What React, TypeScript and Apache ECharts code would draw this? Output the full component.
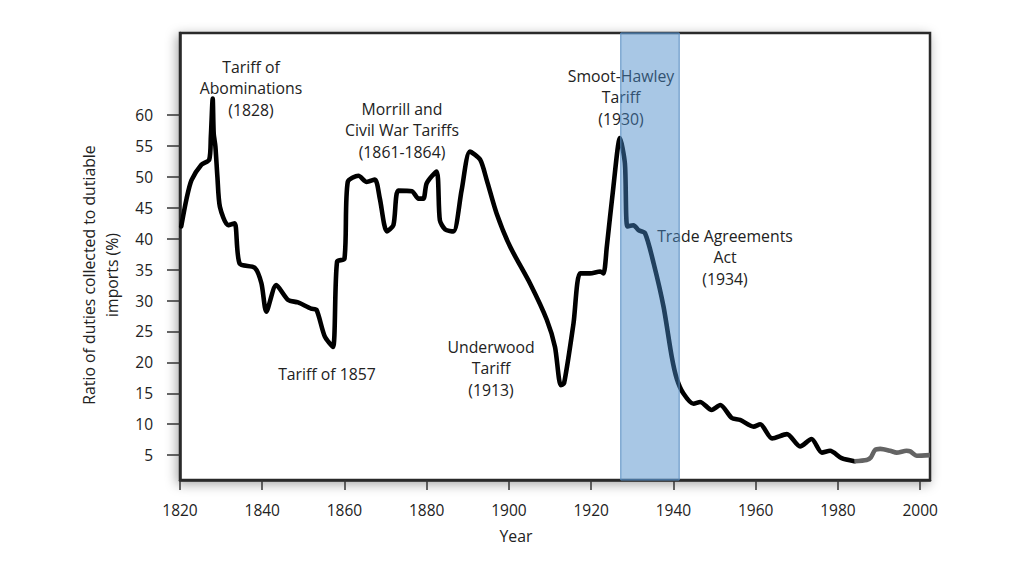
import React, { useEffect, useRef } from "react";
import * as echarts from "echarts";

// Ratio of duties collected to dutiable imports (%)
const mainYears = [
  1820.3, 1821.6, 1822.8, 1825.2, 1827.1, 1827.5, 1827.95, 1828.2, 1828.6, 1829.1, 1829.7,
  1831.7, 1833.3, 1834.5, 1838.2, 1839.8, 1841.0, 1843.4, 1846.3, 1848.7, 1851.9,
  1853.2, 1855.2, 1857.2, 1858.2, 1860.0, 1860.8, 1863.4, 1865.4, 1867.4, 1868.6,
  1870.3, 1871.9, 1873.1, 1876.4, 1878.0, 1879.2, 1880.0, 1882.4, 1883.2, 1884.5,
  1886.5, 1888.5, 1890.5, 1893.0, 1894.6, 1897.0, 1900.3, 1905.1, 1909.2, 1911.2,
  1912.6, 1913.4, 1915.7, 1917.3, 1919.7, 1922.2, 1923.0, 1923.8, 1925.4, 1927.0,
  1928.2, 1928.8, 1930.3, 1931.5, 1933.1, 1935.2, 1937.6, 1939.6, 1940.8, 1942.4,
  1944.9, 1946.5, 1949.3, 1951.4, 1954.2, 1956.2, 1959.5, 1961.1, 1964.0, 1967.6,
  1970.8, 1973.6, 1976.1, 1978.1, 1980.9, 1984.0,
];
const mainValues = [
  42.0, 46.5, 49.5, 52.0, 52.8, 56.5, 62.7, 57.0, 55.0, 50.0, 45.2,
  42.2, 42.5, 36.0, 35.3, 32.8, 28.2, 32.5, 30.1, 29.7, 28.7,
  28.5, 24.2, 22.5, 36.3, 36.8, 49.2, 50.2, 49.2, 49.6, 46.5,
  41.2, 42.2, 47.8, 47.7, 46.5, 46.5, 49.0, 50.9, 43.0, 41.5,
  41.2, 47.9, 54.1, 52.8, 49.5, 44.1, 38.7, 32.8, 26.9, 22.5,
  16.3, 16.6, 26.3, 34.4, 34.4, 34.7, 34.4, 38.7, 48.4, 56.3,
  52.2, 42.0, 42.2, 41.4, 40.9, 36.0, 29.0, 20.9, 17.4, 15.0,
  13.3, 13.6, 12.3, 13.1, 11.0, 10.7, 9.6, 10.0, 7.7, 8.4,
  6.4, 7.6, 5.4, 5.7, 4.5, 4.0,
];
const recentYears = [1984.0, 1987.0, 1988.0, 1989.0, 1990.3, 1992.7, 1994.3, 1996.7, 1997.6, 1999.2, 2002.4];
const recentValues = [4.0, 4.2, 4.6, 5.8, 6.0, 5.7, 5.4, 5.7, 5.6, 4.9, 5.0];

// Shaded period (Smoot-Hawley to the Trade Agreements era)
const bandStart = 1927.2;
const bandEnd = 1941.4;

const xTicks = [1820, 1840, 1860, 1880, 1900, 1920, 1940, 1960, 1980, 2000];
const yTicks = [5, 10, 15, 20, 25, 30, 35, 40, 45, 50, 55, 60];

const X_MIN = 1820;
const X_MAX = 2002.4;
const Y_MIN = 0.97;
const Y_MAX = 73.3;

const FONT = "Open Sans";

export default function App() {
  const ref = useRef<HTMLDivElement>(null);

  useEffect(() => {
    if (!ref.current) return;
    const chart = echarts.init(ref.current, null, { renderer: "svg" });

    const pair = (xs: number[], ys: number[]) => xs.map((x, i) => [x, ys[i]]);
    const ann = (x: number, y: number, text: string) => ({
      type: "text",
      x,
      y,
      z: 1,
      style: {
        text,
        fill: "#222",
        font: `15.8px '${FONT}'`,
        align: "center",
        verticalAlign: "middle",
        lineHeight: 21.5,
      },
    });

    chart.setOption({
      animation: false,
      backgroundColor: "#ffffff",
      grid: {
        left: 180,
        right: 94,
        top: 33,
        bottom: 96,
        show: true,
        backgroundColor: "#ffffff",
        borderColor: "#2a2a2a",
        borderWidth: 2.5,
        shadowBlur: 12,
        shadowColor: "rgba(0,0,0,0.35)",
        shadowOffsetX: -2,
        shadowOffsetY: 3,
      },
      xAxis: {
        type: "value",
        min: X_MIN,
        max: X_MAX,
        interval: 20,
        splitLine: { show: false },
        axisLine: { show: true, lineStyle: { color: "#2a2a2a", width: 2.5 } },
        axisTick: { show: true, length: 10, customValues: xTicks, lineStyle: { color: "#333", width: 1.5 } },
        axisLabel: {
          customValues: xTicks,
          margin: 22,
          color: "#222",
          fontFamily: FONT,
          fontSize: 15.5,
          formatter: (v: number) => String(Math.round(v)),
        },
      },
      yAxis: {
        type: "value",
        min: Y_MIN,
        max: Y_MAX,
        splitLine: { show: false },
        axisLine: { show: true, lineStyle: { color: "#2a2a2a", width: 2.5 } },
        axisTick: { show: true, length: 13, customValues: yTicks, lineStyle: { color: "#333", width: 1.5 } },
        axisLabel: {
          customValues: yTicks,
          margin: 27,
          color: "#222",
          fontFamily: FONT,
          fontSize: 15.5,
          formatter: (v: number) => String(Math.round(v)),
        },
      },
      graphic: [
        ann(251, 88, "Tariff of\nAbominations\n(1828)"),
        ann(402, 130, "Morrill and\nCivil War Tariffs\n(1861-1864)"),
        ann(327, 374, "Tariff of 1857"),
        ann(491, 368, "Underwood\nTariff\n(1913)"),
        ann(621, 97, "Smoot-Hawley\nTariff\n(1930)"),
        ann(725, 257, "Trade Agreements\nAct\n(1934)"),
        {
          type: "text",
          x: 100,
          y: 275,
          z: 1,
          rotation: Math.PI / 2,
          style: {
            text: "Ratio of duties collected to dutiable\nimports (%)",
            fill: "#222",
            font: `15.8px '${FONT}'`,
            align: "center",
            verticalAlign: "middle",
            lineHeight: 23,
          },
        },
        {
          type: "text",
          x: 516,
          y: 536,
          z: 1,
          style: {
            text: "Year",
            fill: "#222",
            font: `15.8px '${FONT}'`,
            align: "center",
            verticalAlign: "middle",
          },
        },
      ],
      series: [
        {
          type: "line",
          data: pair(mainYears, mainValues),
          smooth: 0.25,
          showSymbol: false,
          symbol: "none",
          z: 3,
          lineStyle: { color: "#000000", width: 4.6, cap: "round", join: "round" },
        },
        {
          type: "line",
          data: pair(recentYears, recentValues),
          smooth: 0.25,
          showSymbol: false,
          symbol: "none",
          z: 3,
          lineStyle: { color: "#646464", width: 4.6, join: "round" },
        },
        {
          type: "custom",
          z: 6,
          silent: true,
          data: [[bandStart, bandEnd]],
          renderItem: (params: any, api: any) => {
            const p0 = api.coord([api.value(0), Y_MAX]);
            const p1 = api.coord([api.value(1), Y_MIN]);
            return {
              type: "rect",
              shape: { x: p0[0], y: p0[1], width: p1[0] - p0[0], height: p1[1] - p0[1] },
              style: { fill: "rgba(70,135,200,0.47)", stroke: "#5a8ec2", lineWidth: 1 },
            };
          },
        },
      ],
    });

    return () => chart.dispose();
  }, []);

  return (
    <div
      ref={ref}
      style={{ position: "fixed", left: 0, top: 0, width: 1024, height: 576, background: "#fff" }}
    />
  );
}
